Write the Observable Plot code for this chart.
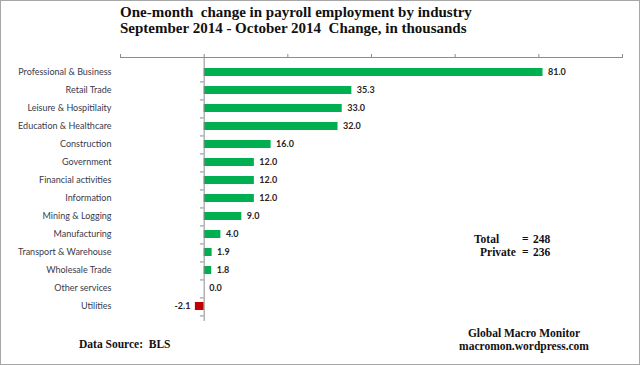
<!DOCTYPE html>
<html><head><meta charset="utf-8">
<script src="https://cdn.jsdelivr.net/npm/d3@7"></script>
<script src="https://cdn.jsdelivr.net/npm/@observablehq/plot@0.6"></script>
<style>
body{margin:0;background:#fff;}
#wrap{position:relative;width:640px;height:365px;overflow:hidden;background:#fff;}
#border{position:absolute;left:0;top:0;width:638px;height:363px;border:1px solid #a6a6a6;pointer-events:none;}
.serif{font-family:"Liberation Serif","Times New Roman",serif;font-weight:bold;color:#111;}
#title{position:absolute;left:120px;top:4px;font-size:15px;line-height:16px;white-space:pre;}
.ann{position:absolute;white-space:pre;}
#chart{position:absolute;left:0;top:40px;}
</style></head>
<body><div id="wrap">
<div id="title" class="serif"></div>
<div id="chart"></div>
<div id="totals" class="serif ann" style="left:474px;top:233px;font-size:11.5px;line-height:13px;"></div>
<div id="brand" class="serif ann" style="left:444px;top:327px;width:160px;text-align:center;font-size:11.5px;line-height:13px;"></div>
<div id="source" class="serif ann" style="left:79px;top:338px;font-size:11.5px;"></div>
<div id="border"></div>
</div>
<script>
const titleLines = ["One-month  change in payroll employment by industry", "September 2014 - October 2014  Change, in thousands"];
const industries = ["Professional & Business","Retail Trade","Leisure & Hospitilaity","Education & Healthcare","Construction","Government","Financial activities","Information","Mining & Logging","Manufacturing","Transport & Warehouse","Wholesale Trade","Other services","Utilities"];
const values = [81.0, 35.3, 33.0, 32.0, 16.0, 12.0, 12.0, 12.0, 9.0, 4.0, 1.9, 1.8, 0.0, -2.1];
const xTicks = [-20, 0, 20, 40, 60, 80, 100];
const totalsRows = [["Total", "248"], ["Private", "236"]];
const brandLines = ["Global Macro Monitor", "macromon.wordpress.com"];
const sourceText = "Data Source:  BLS";

const data = industries.map((name, i) => ({name, value: values[i]}));

document.getElementById("title").innerHTML = titleLines.join("\n");
document.getElementById("brand").innerHTML = brandLines.join("\n");
document.getElementById("source").textContent = sourceText;
document.getElementById("totals").innerHTML = totalsRows.map((r, i) =>
  `<div style="position:relative;height:13px;"><span style="position:absolute;left:${i ? 6 : 0}px">${r[0]}</span><span style="position:absolute;left:48px">=</span><span style="position:absolute;left:59px">${r[1]}</span></div>`).join("");

const W = 640, H = 325, mT = 17, mB = 44;
const step = (H - mT - mB) / industries.length;
const labelFont = "Lato, 'Open Sans', sans-serif";

const plot = Plot.plot({
  width: W, height: H,
  marginLeft: 120, marginRight: 18, marginTop: mT, marginBottom: mB,
  style: {background: "transparent", overflow: "visible"},
  x: {domain: [-20, 100], axis: null},
  y: {domain: industries, paddingInner: 0.56, paddingOuter: 0.28, axis: null},
  marks: [
    Plot.barX(data, {x: "value", y: "name", fill: d => d.value < 0 ? "#C00000" : "#00B050"}),
    Plot.ruleX([0], {stroke: "#8c8c8c"}),
    Plot.ruleY(data, {y: "name", x1: -0.9, x2: 0, dy: step / 2, stroke: "#8c8c8c"}),
    Plot.frame({anchor: "top", stroke: "#8c8c8c"}),
    Plot.axisX({anchor: "top", ticks: xTicks, tickSize: 4, tickFormat: () => "", stroke: "#8c8c8c", label: null}),
    Plot.axisY({anchor: "left", tickSize: 0, tickPadding: 9, fontSize: 9, fontFamily: labelFont, fill: "#3a3a4a", label: null}),
    Plot.text(data.filter(d => d.value >= 0), {x: "value", y: "name", text: d => d.value.toFixed(1),
      textAnchor: "start", dx: 5,
      fontSize: 9, fontWeight: "bold", fontFamily: labelFont, fill: "#262626"}),
    Plot.text(data.filter(d => d.value < 0), {x: "value", y: "name", text: d => d.value.toFixed(1),
      textAnchor: "end", dx: -5,
      fontSize: 9, fontWeight: "bold", fontFamily: labelFont, fill: "#262626"})
  ]
});
document.getElementById("chart").appendChild(plot);
</script>
</body></html>
